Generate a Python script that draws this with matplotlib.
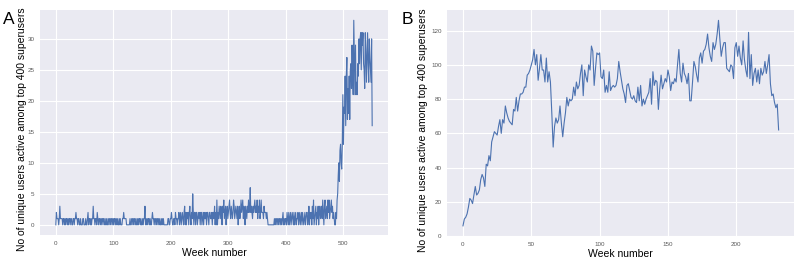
import numpy as np
import matplotlib
matplotlib.use("Agg")
import matplotlib.pyplot as plt

# Panel A: weekly count of unique users among top 400 superusers (weeks 0..550)
counts_a = [
    0, 2, 1, 1, 1, 0, 1, 3, 1, 1, 1, 1, 0, 1, 1, 0, 1, 0, 1, 1, 0, 1, 0, 1, 1,
    0, 1, 1, 0, 0, 1, 1, 0, 1, 1, 2, 1, 1, 0, 1, 1, 0, 0, 1, 0, 0, 0, 1, 1, 0,
    0, 0, 1, 0, 0, 1, 2, 0, 1, 1, 0, 1, 0, 1, 1, 3, 1, 1, 0, 1, 1, 0, 2, 1, 0,
    1, 1, 0, 1, 0, 1, 1, 0, 1, 1, 0, 0, 1, 0, 1, 0, 0, 1, 1, 0, 1, 0, 1, 1, 0,
    1, 0, 1, 1, 0, 1, 0, 1, 0, 0, 1, 0, 1, 0, 0, 0, 1, 1, 2, 1, 1, 1, 1, 0, 0,
    0, 0, 0, 0, 1, 0, 0, 1, 1, 0, 1, 0, 1, 1, 0, 0, 1, 0, 1, 0, 1, 1, 0, 1, 0,
    0, 1, 0, 1, 1, 3, 0, 1, 0, 1, 0, 1, 1, 0, 1, 0, 0, 1, 2, 1, 1, 0, 1, 1, 0,
    1, 0, 1, 1, 0, 1, 0, 0, 1, 0, 1, 0, 1, 0, 0, 0, 0, 0, 0, 0, 1, 1, 0, 0, 1,
    1, 2, 1, 0, 0, 1, 1, 0, 2, 1, 1, 0, 1, 1, 2, 0, 1, 2, 0, 1, 2, 1, 0, 2, 3,
    0, 2, 0, 2, 1, 2, 0, 2, 3, 1, 0, 2, 1, 5, 2, 0, 2, 2, 0, 2, 2, 0, 1, 2, 1,
    2, 0, 2, 2, 0, 1, 2, 0, 2, 1, 1, 2, 0, 2, 2, 1, 0, 2, 2, 1, 1, 2, 0, 2, 2,
    1, 3, 0, 2, 0, 4, 0, 2, 1, 3, 2, 1, 3, 2, 0, 3, 2, 4, 1, 2, 3, 0, 2, 3, 1,
    2, 3, 4, 2, 1, 3, 2, 1, 2, 4, 3, 1, 2, 3, 2, 1, 3, 0, 2, 3, 1, 2, 4, 2, 3,
    4, 1, 3, 2, 0, 3, 2, 1, 3, 2, 4, 2, 3, 6, 2, 3, 2, 1, 3, 2, 3, 4, 2, 3, 2,
    4, 1, 3, 2, 4, 1, 2, 4, 2, 2, 2, 1, 3, 2, 2, 2, 1, 2, 1, 0, 0, 0, 0, 0, 0,
    0, 0, 0, 0, 0, 1, 0, 1, 0, 1, 1, 0, 1, 0, 1, 1, 0, 1, 0, 1, 2, 0, 1, 0, 1,
    1, 0, 2, 1, 0, 2, 0, 1, 2, 0, 1, 2, 1, 0, 2, 0, 1, 2, 0, 1, 1, 2, 0, 1, 2,
    0, 1, 2, 0, 2, 1, 0, 1, 2, 0, 1, 2, 2, 0, 1, 3, 0, 2, 1, 2, 0, 3, 1, 4, 0,
    1, 2, 3, 0, 2, 1, 3, 0, 2, 3, 1, 2, 3, 1, 4, 2, 0, 3, 4, 1, 2, 3, 1, 4, 2,
    4, 1, 2, 3, 4, 2, 3, 1, 2, 1, 0, 0, 2, 1, 4, 5, 8, 10, 7, 12, 13, 10, 9, 13, 21,
    13, 19, 18, 24, 16, 24, 27, 17, 22, 18, 24, 17, 25, 26, 22, 29, 24, 21, 33, 27, 21, 29, 21, 23, 21,
    26, 24, 30, 26, 30, 31, 25, 31, 29, 31, 26, 25, 22, 31, 28, 23, 27, 31, 26, 23, 30, 27, 25, 23, 30, 16,
]

# Panel B: weekly count (weeks 0..231)
counts_b = [
    6, 10, 11, 13, 17, 22, 21, 19, 24, 29,
    24, 25, 27, 33, 36, 34, 29, 42, 41, 47,
    44, 55, 58, 61, 60, 59, 64, 68, 60, 68,
    66, 76, 72, 69, 67, 66, 65, 74, 73, 81,
    73, 79, 83, 83, 84, 87, 87, 94, 95, 97,
    100, 103, 109, 100, 106, 91, 98, 106, 97, 97,
    90, 104, 90, 96, 90, 72, 52, 64, 69, 66,
    68, 76, 66, 58, 66, 72, 81, 76, 80, 79,
    80, 87, 82, 90, 86, 88, 95, 100, 82, 97,
    93, 90, 100, 97, 111, 108, 88, 98, 107, 106,
    107, 93, 92, 97, 84, 88, 84, 96, 85, 87,
    88, 87, 88, 92, 102, 96, 91, 86, 83, 78,
    88, 89, 85, 81, 80, 82, 79, 78, 87, 79,
    88, 76, 80, 77, 80, 82, 84, 92, 77, 96,
    88, 91, 90, 74, 86, 94, 86, 89, 92, 90,
    97, 93, 85, 90, 89, 92, 90, 100, 109, 95,
    90, 101, 95, 93, 89, 95, 79, 79, 90, 102,
    99, 94, 90, 104, 107, 101, 108, 109, 112, 118,
    110, 105, 102, 113, 109, 112, 118, 126, 115, 105,
    110, 113, 113, 98, 97, 96, 100, 99, 92, 110,
    113, 105, 111, 104, 100, 114, 103, 97, 93, 119,
    92, 106, 88, 95, 98, 90, 97, 89, 98, 94,
    96, 102, 95, 100, 106, 89, 82, 83, 78, 75,
    77, 62,
]

ylabel = "No of unique users active among top 400 superusers"
xlabel = "Week number"
line_color = "#4C72B0"

plt.rcParams["font.family"] = ["Liberation Sans", "DejaVu Sans"]

fig = plt.figure(figsize=(8, 2.65), dpi=100)
ax_a = fig.add_axes([0.05, 0.113, 0.435, 0.849])
ax_b = fig.add_axes([0.559, 0.109, 0.434, 0.853])

panels = [
    (ax_a, counts_a, "A", [0, 5, 10, 15, 20, 25, 30], -0.037),
    (ax_b, counts_b, "B", [0, 20, 40, 60, 80, 100, 120], -0.056),
]

for ax, vals, letter, yticks, lab_x in panels:
    ax.set_facecolor("#EAEAF2")
    for s in ax.spines.values():
        s.set_visible(False)
    weeks = np.arange(len(vals))
    ax.plot(weeks, vals, color=line_color, lw=0.8)
    ax.margins(x=0.05, y=0.05)
    ax.set_yticks(yticks)
    ax.grid(True, color="white", lw=0.8)
    ax.set_axisbelow(True)
    ax.tick_params(length=0, labelsize=4.5, colors="0.35", pad=4)
    ax.set_xlabel(xlabel, fontsize=7.5, labelpad=2)
    ax.set_ylabel(ylabel, fontsize=7.5)
    ax.yaxis.set_label_coords(lab_x, 0.47)

ax_a.set_xticks([0, 100, 200, 300, 400, 500])
ax_b.set_xticks([0, 50, 100, 150, 200])
ax_b.set_ylim(0, None)

fig.text(0.004, 0.955, "A", fontsize=12.5, va="top", ha="left")
fig.text(0.502, 0.955, "B", fontsize=12.5, va="top", ha="left")

fig.savefig("out.png", dpi=100)
